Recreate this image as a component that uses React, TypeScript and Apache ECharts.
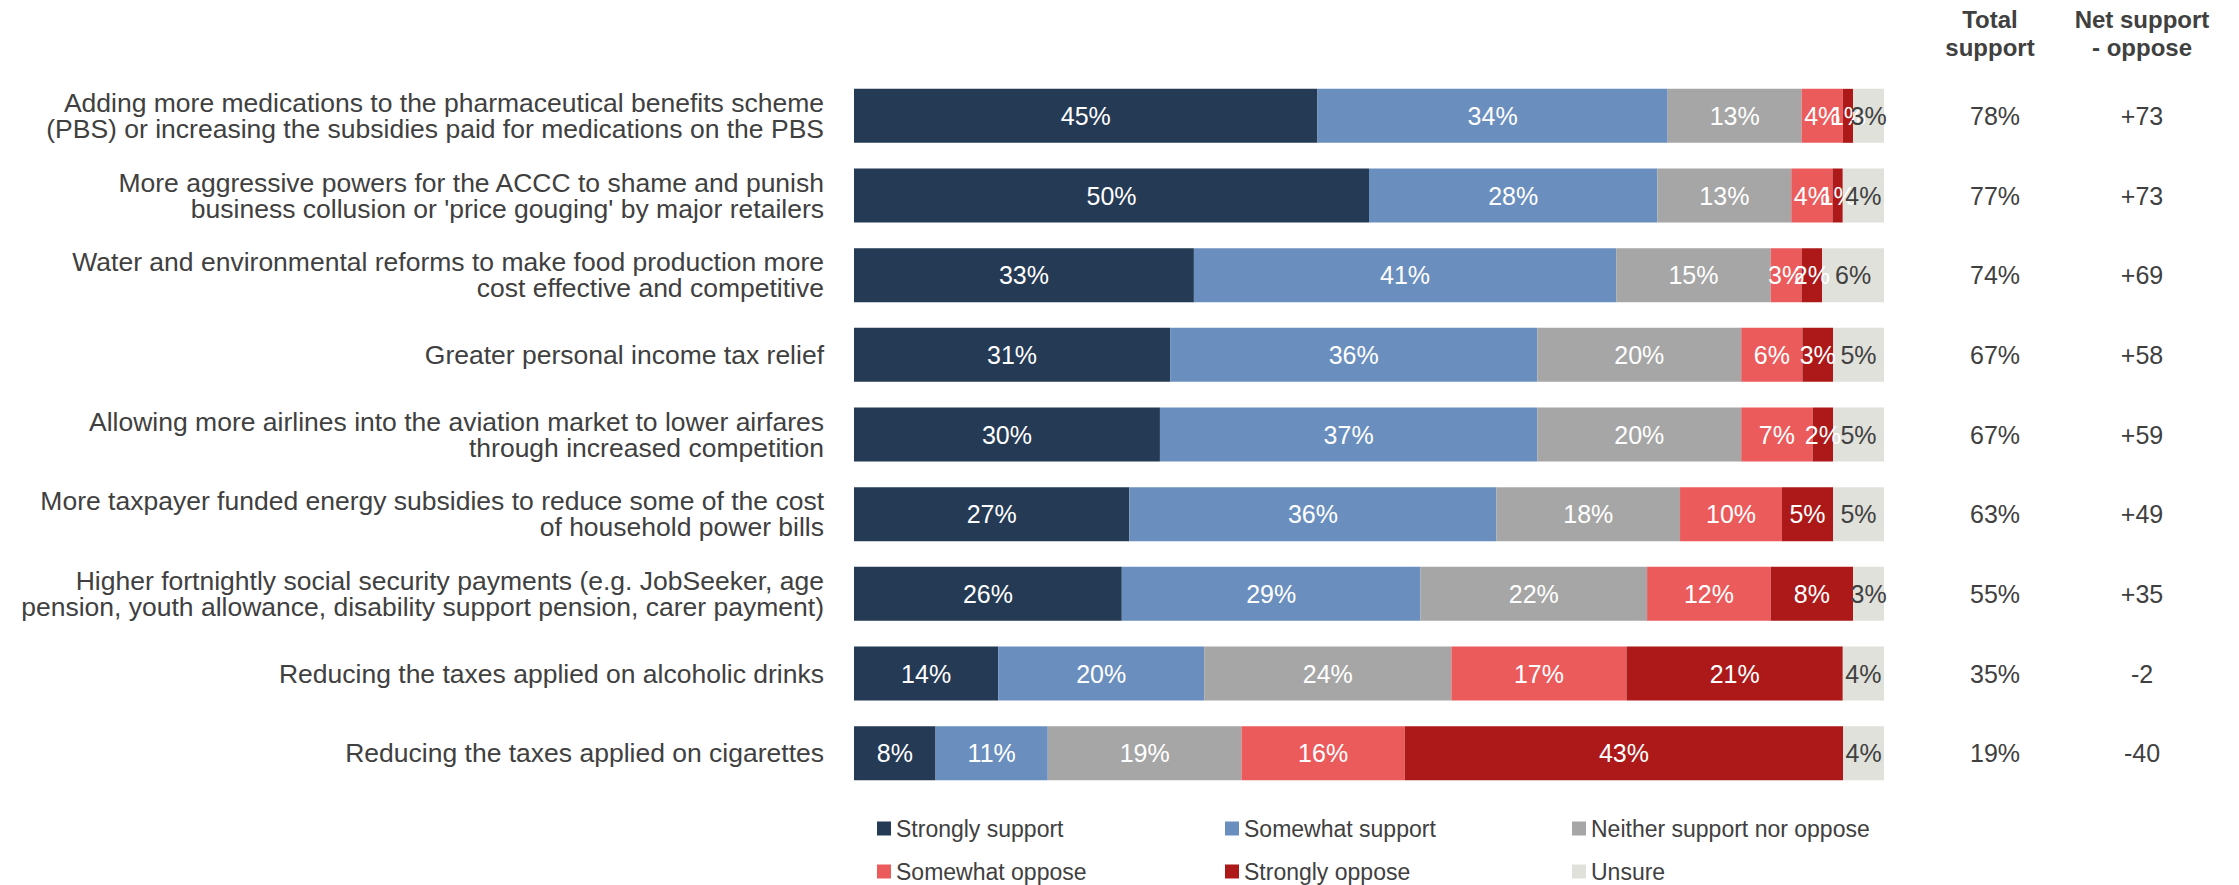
import React, { useEffect, useRef } from "react";
import * as echarts from "echarts";

const categories = [
  "Adding more medications to the pharmaceutical benefits scheme\n(PBS) or increasing the subsidies paid for medications on the PBS",
  "More aggressive powers for the ACCC to shame and punish\nbusiness collusion or 'price gouging' by major retailers",
  "Water and environmental reforms to make food production more\ncost effective and competitive",
  "Greater personal income tax relief",
  "Allowing more airlines into the aviation market to lower airfares\nthrough increased competition",
  "More taxpayer funded energy subsidies to reduce some of the cost\nof household power bills",
  "Higher fortnightly social security payments (e.g. JobSeeker, age\npension, youth allowance, disability support pension, carer payment)",
  "Reducing the taxes applied on alcoholic drinks",
  "Reducing the taxes applied on cigarettes",
];

const seriesNames = [
  "Strongly support",
  "Somewhat support",
  "Neither support nor oppose",
  "Somewhat oppose",
  "Strongly oppose",
  "Unsure",
];

const strongSupport = [45, 50, 33, 31, 30, 27, 26, 14, 8];
const someSupport = [34, 28, 41, 36, 37, 36, 29, 20, 11];
const neither = [13, 13, 15, 20, 20, 18, 22, 24, 19];
const someOppose = [4, 4, 3, 6, 7, 10, 12, 17, 16];
const strongOppose = [1, 1, 2, 3, 2, 5, 8, 21, 43];
const unsure = [3, 4, 6, 5, 5, 5, 3, 4, 4];

const totalSupport = [78, 77, 74, 67, 67, 63, 55, 35, 19];
const netSupport = ["+73", "+73", "+69", "+58", "+59", "+49", "+35", "-2", "-40"];

const colors = ["#253a54", "#6a8fbe", "#a6a6a6", "#eb5b5b", "#ad1919", "#e0e1db"];
const labelColors = ["#ffffff", "#ffffff", "#ffffff", "#ffffff", "#ffffff", "#404040"];

const FONT = "'Liberation Sans', Arial, sans-serif";
const TEXT = "#404040";

export default function App() {
  const ref = useRef<HTMLDivElement>(null);
  useEffect(() => {
    if (!ref.current) return;
    const chart = echarts.init(ref.current, undefined, { renderer: "svg" });
    const all = [strongSupport, someSupport, neither, someOppose, strongOppose, unsure];
    const sums = categories.map((_, i) => all.reduce((s, arr) => s + arr[i], 0));
    const series = all.map((arr, k) => ({
      name: seriesNames[k],
      type: "bar",
      stack: "total",
      barWidth: 54,
      yAxisIndex: 0,
      itemStyle: { color: colors[k] },
      label: {
        show: true,
        position: "inside",
        color: labelColors[k],
        fontSize: 25,
        fontFamily: FONT,
        formatter: (p: any) => p.data.raw + "%",
      },
      emphasis: { disabled: true },
      data: arr.map((v, i) => ({ value: (v / sums[i]) * 100, raw: v })),
    }));

    const legendCommon = {
      type: "plain",
      orient: "vertical",
      top: 815,
      height: 120,
      itemGap: 16,
      itemWidth: 14,
      itemHeight: 14,
      padding: 0,
      icon: "rect",
      selectedMode: false,
      textStyle: { fontSize: 23, lineHeight: 27, color: TEXT, fontFamily: FONT },
    };

    chart.setOption({
      animation: false,
      textStyle: { fontFamily: FONT },
      grid: { left: 854, right: 355, top: 76, bottom: 92, containLabel: false },
      xAxis: { type: "value", min: 0, max: 100, show: false },
      yAxis: [
        {
          type: "category",
          data: categories,
          inverse: true,
          axisLine: { show: false },
          axisTick: { show: false },
          axisLabel: { margin: 30, fontSize: 26.5, lineHeight: 26, color: TEXT, fontFamily: FONT },
        },
        {
          type: "category",
          data: totalSupport.map((v) => v + "%"),
          inverse: true,
          position: "right",
          axisLine: { show: false },
          axisTick: { show: false },
          axisLabel: { margin: 111, align: "center", fontSize: 25, color: TEXT, fontFamily: FONT },
        },
        {
          type: "category",
          data: netSupport,
          inverse: true,
          position: "right",
          axisLine: { show: false },
          axisTick: { show: false },
          axisLabel: { margin: 258, align: "center", fontSize: 25, color: TEXT, fontFamily: FONT },
        },
      ],
      legend: [
        { ...legendCommon, left: 877, data: [seriesNames[0], seriesNames[3]] },
        { ...legendCommon, left: 1225, data: [seriesNames[1], seriesNames[4]] },
        { ...legendCommon, left: 1572, data: [seriesNames[2], seriesNames[5]] },
      ],
      graphic: [
        {
          type: "text",
          x: 1990,
          y: 5,
          style: {
            text: "Total\nsupport",
            textAlign: "center",
            textVerticalAlign: "top",
            font: "bold 24px " + FONT,
            lineHeight: 28,
            fill: TEXT,
          },
        },
        {
          type: "text",
          x: 2142,
          y: 5,
          style: {
            text: "Net support\n- oppose",
            textAlign: "center",
            textVerticalAlign: "top",
            font: "bold 24px " + FONT,
            lineHeight: 28,
            fill: TEXT,
          },
        },
      ],
      series,
    });
    return () => chart.dispose();
  }, []);
  return (
    <div
      ref={ref}
      style={{ position: "absolute", left: 0, top: 0, width: 2239, height: 885 }}
    />
  );
}
